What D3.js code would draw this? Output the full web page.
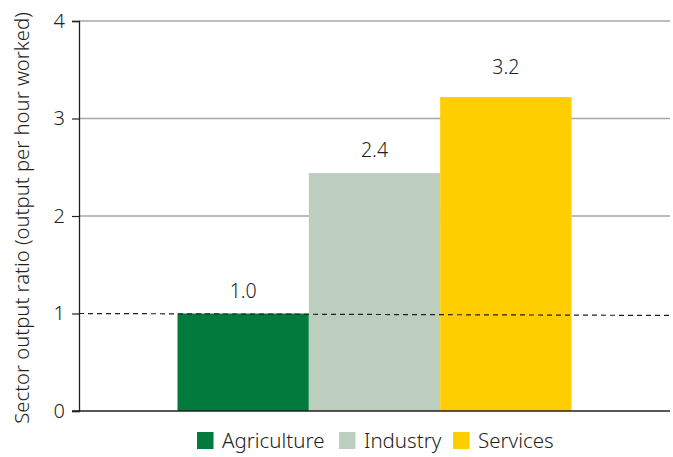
<!DOCTYPE html>
<html>
<head>
<meta charset="utf-8">
<script src="https://cdn.jsdelivr.net/npm/d3@7/dist/d3.min.js"></script>
<style>
  html, body { margin: 0; padding: 0; background: #fff; }
  svg { display: block; }
  text { font-family: "Noto Sans", "Open Sans", sans-serif; font-weight: 300; fill: #231f20; }
</style>
</head>
<body>
<svg id="chart" width="673" height="457"></svg>
<script>
// Output per hour worked, relative to agriculture
const sectors = ["Agriculture", "Industry", "Services"];
const ratios = [1.0, 2.44, 3.22];
const colors = ["#007a3d", "#bccfbf", "#ffce00"];
const yTicks = [0, 1, 2, 3, 4];
const refLine = [1.0, 0.98]; // parity line, start and end value
const yTitle = "Sector output ratio (output per hour worked)";

const svg = d3.select("#chart");
const margin = { left: 79, right: 3, top: 21, bottom: 46 };
const W = 673, H = 457;
const FONT = '"Noto Sans", "Open Sans", sans-serif';

const x = d3.scaleBand()
  .domain(sectors)
  .range([margin.left, W - margin.right])
  .paddingInner(0)
  .paddingOuter(0.75);

const y = d3.scaleLinear()
  .domain([0, 4])
  .range([H - margin.bottom, margin.top]);

// horizontal gridlines
svg.append("g")
  .selectAll("line")
  .data(yTicks.filter(d => d > 1))
  .join("line")
  .attr("x1", margin.left)
  .attr("x2", W - margin.right)
  .attr("y1", d => y(d))
  .attr("y2", d => y(d))
  .attr("stroke", "#a6a6a6")
  .attr("stroke-width", 1.3);

// bars
svg.append("g")
  .selectAll("rect")
  .data(sectors)
  .join("rect")
  .attr("x", d => x(d))
  .attr("width", x.bandwidth())
  .attr("y", (d, i) => y(ratios[i]))
  .attr("height", (d, i) => y(0) - y(ratios[i]))
  .attr("fill", (d, i) => colors[i]);

// value labels (the tallest one sits a little higher)
const labelLift = [16, 16, 23];
svg.append("g")
  .selectAll("text")
  .data(sectors)
  .join("text")
  .attr("x", d => x(d) + x.bandwidth() / 2)
  .attr("y", (d, i) => y(ratios[i]) - labelLift[i])
  .attr("text-anchor", "middle")
  .attr("font-size", 19.5)
  .text((d, i) => d3.format(".1f")(ratios[i]));

// dashed parity line
svg.append("line")
  .attr("x1", margin.left)
  .attr("x2", W - margin.right)
  .attr("y1", y(refLine[0]))
  .attr("y2", y(refLine[1]))
  .attr("stroke", "#231f20")
  .attr("stroke-width", 1.2)
  .attr("stroke-dasharray", "5,4");

// y axis
const yAxis = svg.append("g")
  .attr("transform", `translate(${margin.left},0)`)
  .call(d3.axisLeft(y).tickValues(yTicks).tickFormat(d3.format("d")).tickSize(7).tickPadding(7));
yAxis.select(".domain").attr("stroke", "#231f20").attr("stroke-width", 1.3);
yAxis.selectAll(".tick line").attr("stroke", "#231f20").attr("stroke-width", 1.2);
yAxis.selectAll(".tick text")
  .attr("font-size", 20)
  .attr("fill", "#231f20")
  .style("font-family", FONT)
  .style("font-weight", 300);

// baseline
svg.append("line")
  .attr("x1", margin.left - 7)
  .attr("x2", W - margin.right)
  .attr("y1", y(0))
  .attr("y2", y(0))
  .attr("stroke", "#231f20")
  .attr("stroke-width", 1.3);

// y-axis title
svg.append("text")
  .attr("transform", `translate(29,218) rotate(-90)`)
  .attr("text-anchor", "middle")
  .attr("font-size", 20.3)
  .text(yTitle);

// legend
const legendX = [197, 339, 453];
const legend = svg.append("g")
  .selectAll("g")
  .data(sectors)
  .join("g")
  .attr("transform", (d, i) => `translate(${legendX[i]},432)`);
legend.append("rect")
  .attr("width", 16.5)
  .attr("height", 17)
  .attr("fill", (d, i) => colors[i]);
legend.append("text")
  .attr("x", 25)
  .attr("y", 16)
  .attr("font-size", 20.5)
  .text(d => d);
</script>
</body>
</html>
